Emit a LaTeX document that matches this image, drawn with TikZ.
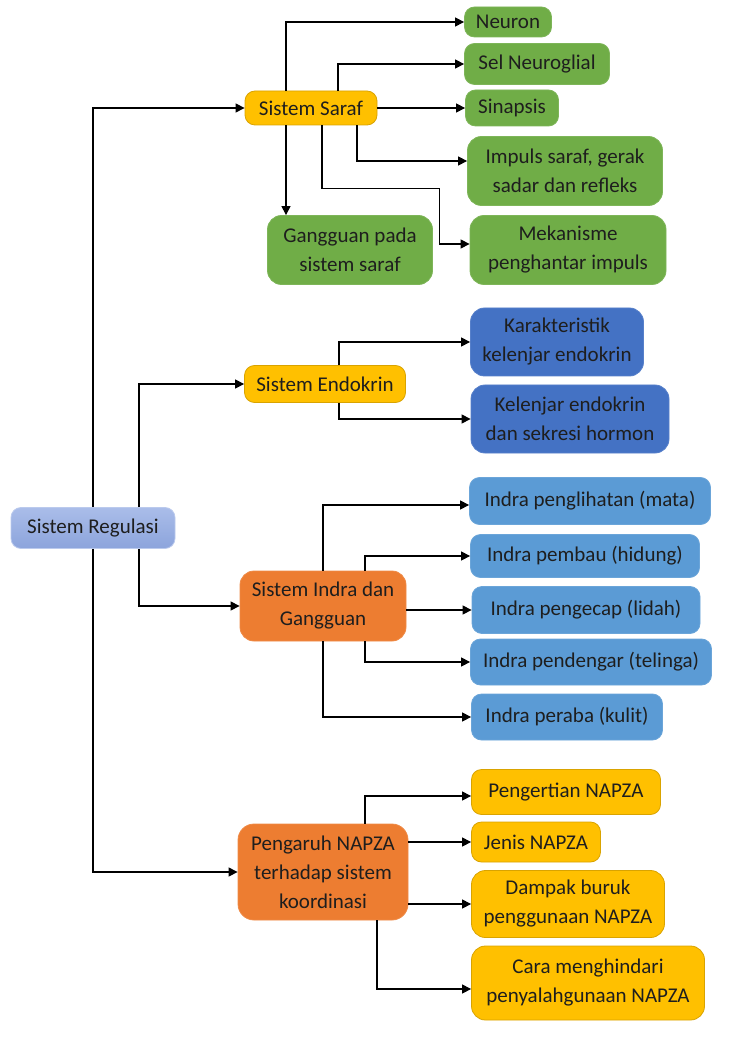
\documentclass[tikz,border=0pt]{standalone}
\usepackage{fontspec}
\setmainfont{Carlito}
\usetikzlibrary{arrows.meta}
\usetikzlibrary{positioning}

\definecolor{kuning}{HTML}{FFC000}
\definecolor{hijau}{HTML}{70AD47}
\definecolor{biru}{HTML}{4472C4}
\definecolor{birumuda}{HTML}{5B9BD5}
\definecolor{oranye}{HTML}{ED7D31}
\definecolor{ungu1}{HTML}{AABDE9}
\definecolor{ungu2}{HTML}{8CA4DC}
\definecolor{teks}{HTML}{1E1E1E}

\tikzset{
    kotak/.style={rectangle, rounded corners=5pt, inner sep=0pt, align=center,
        text=teks, line width=0.4pt, font=\fontsize{10.5}{14.5}\selectfont},
    kuningbox/.style={kotak, fill=kuning, draw=kuning!85!black},
    hijaubox/.style={kotak, fill=hijau, draw=hijau!90!white},
    birubox/.style={kotak, fill=biru, draw=biru!90!white},
    birumudabox/.style={kotak, fill=birumuda, draw=birumuda!90!white},
    oranyebox/.style={kotak, fill=oranye, draw=oranye!90!white},
    akarbox/.style={kotak, top color=ungu1, bottom color=ungu2, draw=ungu1!80!white},
    panah/.style={draw=black, line width=0.6pt, -{Triangle[length=4.5pt,width=4.5pt]}}
}

\begin{document}
\begin{tikzpicture}[x=0.5pt,y=-0.5pt]
            \useasboundingbox (0,0) rectangle (736,1042);

            % akar
            \node[akarbox, minimum width=82pt, minimum height=20.5pt] (regulasi) at (93,528) {Sistem Regulasi};

            % sistem saraf
            \node[kuningbox, minimum width=66pt, minimum height=17pt] (saraf) at (311,108) {Sistem Saraf};
            \node[hijaubox, minimum width=43.5pt, minimum height=15pt] (neuron) at (508,22) {Neuron};
            \node[hijaubox, minimum width=72.5pt, minimum height=20.5pt] (neuroglial) at (537,64) {Sel Neuroglial};
            \node[hijaubox, minimum width=46.5pt, minimum height=18pt] (sinapsis) at (512,108) {Sinapsis};
            \node[hijaubox, minimum width=97.5pt, minimum height=34.5pt, rounded corners=7pt] (impuls) at (565,171) {Impuls saraf, gerak\\sadar dan refleks};
            \node[hijaubox, minimum width=82.5pt, minimum height=34.5pt, rounded corners=7pt] (gangguan) at (350,250) {Gangguan pada\\sistem saraf};
            \node[hijaubox, minimum width=98pt, minimum height=34.5pt, rounded corners=7pt] (mekanisme) at (568,250) {Mekanisme\\penghantar impuls};

            % sistem endokrin
            \node[kuningbox, minimum width=80.5pt, minimum height=18.5pt] (endokrin) at (325,384) {Sistem Endokrin};
            \node[birubox, minimum width=86.5pt, minimum height=34pt, rounded corners=7pt] (karakteristik) at (557,342) {Karakteristik\\kelenjar endokrin};
            \node[birubox, minimum width=99pt, minimum height=34pt, rounded corners=7pt] (kelenjar) at (570,419) {Kelenjar endokrin\\dan sekresi hormon};

            % sistem indra
            \node[oranyebox, minimum width=83pt, minimum height=35pt, rounded corners=7pt] (indra) at (323,606) {Sistem Indra dan\\Gangguan};
            \node[birumudabox, minimum width=120.5pt, minimum height=23.5pt] (penglihatan) at (590,501) {Indra penglihatan (mata)};
            \node[birumudabox, minimum width=114.5pt, minimum height=21.5pt] (pembau) at (585,556) {Indra pembau (hidung)};
            \node[birumudabox, minimum width=114pt, minimum height=23.5pt] (pengecap) at (586,610) {Indra pengecap (lidah)};
            \node[birumudabox, minimum width=120.5pt, minimum height=23pt] (pendengar) at (591,662) {Indra pendengar (telinga)};
            \node[birumudabox, minimum width=95.5pt, minimum height=23pt] (peraba) at (567,717) {Indra peraba (kulit)};

            % napza
            \node[oranyebox, minimum width=85pt, minimum height=48pt, rounded corners=8pt] (napza) at (323,872) {Pengaruh NAPZA\\terhadap sistem\\koordinasi};
            \node[kuningbox, minimum width=94.5pt, minimum height=22.5pt] (pengertian) at (566,792) {Pengertian NAPZA};
            \node[kuningbox, minimum width=64.5pt, minimum height=20pt] (jenis) at (536,842) {Jenis NAPZA};
            \node[kuningbox, minimum width=96.5pt, minimum height=33.5pt, rounded corners=7pt] (dampak) at (568,904) {Dampak buruk\\penggunaan NAPZA};
            \node[kuningbox, minimum width=116.5pt, minimum height=37pt, rounded corners=7pt] (cara) at (588,983) {Cara menghindari\\penyalahgunaan NAPZA};

            \begin{scope}[every path/.style={panah}]
                % dari akar
                \draw (regulasi.north) |- (saraf.west);
                \draw ([xshift=23pt]regulasi.north) |- (endokrin.west);
                \draw ([xshift=23pt]regulasi.south) |- (indra.west);
                \draw (regulasi.south) |- (napza.west);
                % saraf
                \draw ([xshift=-12.5pt]saraf.north) |- (neuron.west);
                \draw ([xshift=13.5pt]saraf.north) |- (neuroglial.west);
                \draw (saraf.east) -- (sinapsis.west);
                \draw ([xshift=23pt]saraf.south) |- ([yshift=5pt]impuls.west);
                \draw ([xshift=5.5pt]saraf.south) -- ++(0,63) -| ([xshift=-15pt,yshift=3pt]mekanisme.west) -- ([yshift=3pt]mekanisme.west);
                \draw ([xshift=-12.5pt]saraf.south) -- ([xshift=-32pt]gangguan.north);
                % endokrin
                \draw ([xshift=7pt]endokrin.north) |- (karakteristik.west);
                \draw ([xshift=7pt]endokrin.south) |- (kelenjar.west);
                % indra
                \draw (indra.north) |- ([yshift=-2pt]penglihatan.west);
                \draw ([xshift=21pt]indra.north) |- (pembau.west);
                \draw ([yshift=-2pt]indra.east) -- (pengecap.west);
                \draw ([xshift=21pt]indra.south) |- (pendengar.west);
                \draw (indra.south) |- (peraba.west);
                % napza
                \draw ([xshift=21pt]napza.north) |- ([yshift=-2pt]pengertian.west);
                \draw ([yshift=15pt]napza.east) -- (jenis.west);
                \draw ([yshift=-16pt]napza.east) -- (dampak.west);
                \draw ([xshift=27pt]napza.south) |- ([yshift=-3pt]cara.west);
            \end{scope}
        \end{tikzpicture}
\end{document}
